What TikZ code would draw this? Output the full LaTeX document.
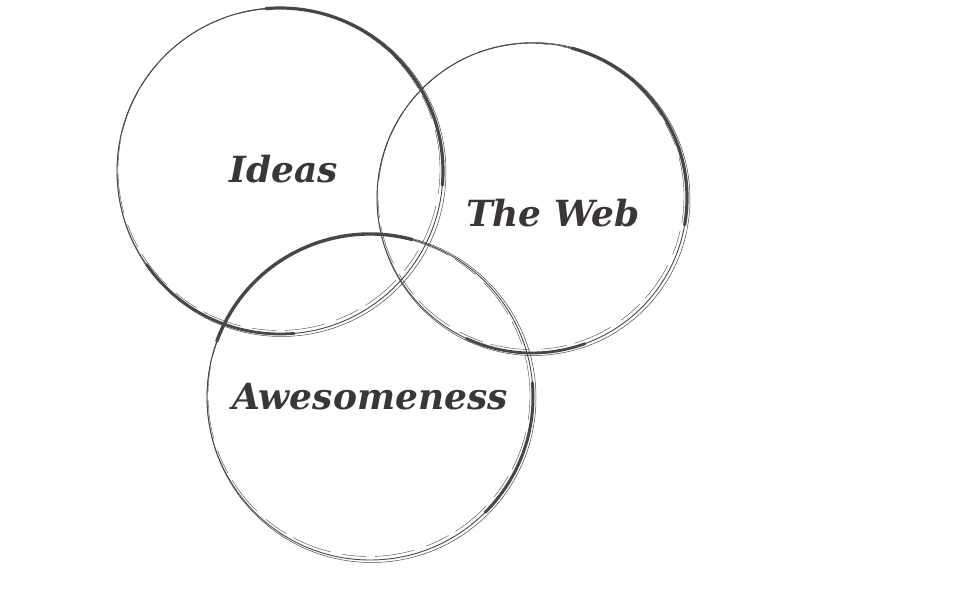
\documentclass[tikz,border=0pt]{standalone}
\usepackage{fontspec}
\newfontfamily\labelfont{DejaVu Serif}
\usetikzlibrary{calc}
\definecolor{ink}{HTML}{3B3636}
\definecolor{brush}{HTML}{4A4646}

\begin{document}
\begin{tikzpicture}[x=1pt,y=1pt,every node/.style={font=\labelfont\bfseries\itshape\fontsize{36}{42}\selectfont,text=ink}]
\useasboundingbox (0,0) rectangle (980,600);
\coordinate (C1) at (280,429); \coordinate (C2) at (532,402); \coordinate (C3) at (370,203);
% ragged rings
\foreach \c/\r in {C1/163,C2/155,C3/163}{
  \draw[brush,line width=0.9pt] (\c) circle (\r);
  \draw[brush,line width=0.5pt] ($(\c)+(1.5,-1)$) circle (\r+1.5);
  \draw[brush,line width=0.4pt,dash pattern=on 40pt off 12pt on 25pt off 8pt] ($(\c)+(-1,1.5)$) circle (\r-2);
}
% heavy strokes
\draw[brush,line width=3.2pt,line cap=round] ($(C1)+(95:163)$) arc[start angle=95,end angle=-5,radius=163];
\draw[brush,line width=2.8pt,line cap=round] ($(C1)+(215:163)$) arc[start angle=215,end angle=275,radius=163];
\draw[brush,line width=3.2pt,line cap=round] ($(C2)+(75:155)$) arc[start angle=75,end angle=-10,radius=155];
\draw[brush,line width=2.8pt,line cap=round] ($(C2)+(245:155)$) arc[start angle=245,end angle=290,radius=155];
\draw[brush,line width=3.4pt,line cap=round] ($(C3)+(160:163)$) arc[start angle=160,end angle=75,radius=163];
\draw[brush,line width=3pt,line cap=round] ($(C3)+(5:163)$) arc[start angle=5,end angle=-45,radius=163];
% labels
\node (ideas) at (284,431) {Ideas};
\node (web) at (553,387) {The Web};
\node (awe) at (370,203) {Awesomeness};
\end{tikzpicture}
\end{document}
